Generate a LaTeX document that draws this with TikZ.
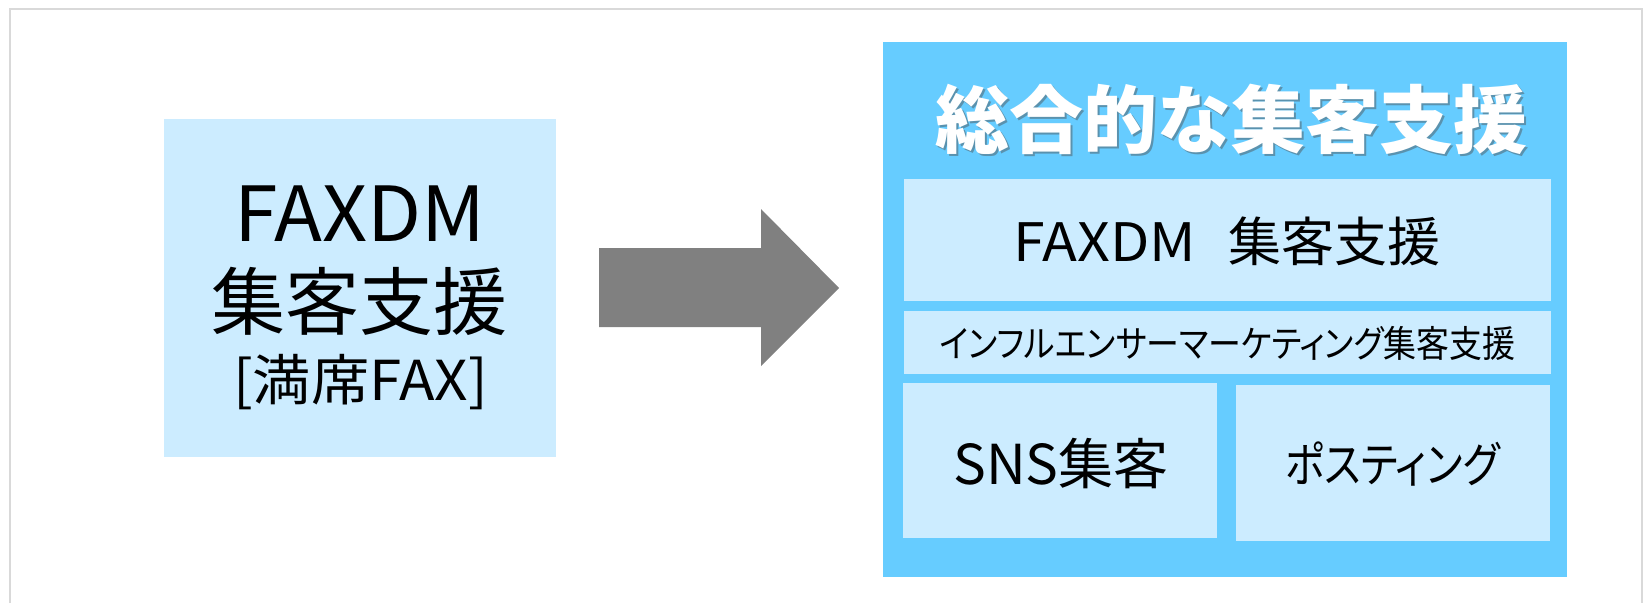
\documentclass[tikz,border=0pt]{standalone}
\usepackage{fontspec}
\setmainfont{Noto Sans CJK JP}
\newfontfamily\jpp[RawFeature=+palt]{Noto Sans CJK JP}
\definecolor{lightbox}{HTML}{CCECFF}
\definecolor{bigbox}{HTML}{66CCFF}
\definecolor{framegray}{HTML}{D9D9D9}
\definecolor{arrowgray}{HTML}{808080}
\tikzset{
  lbox/.style={fill=lightbox, draw=none, inner sep=0pt, minimum width=#1},
  txt/.style={inner sep=0pt, anchor=center, text=black},
}
\newcommand{\fs}[1]{\fontsize{#1}{#1}\selectfont}
\newcommand{\hs}[2]{\scalebox{#1}[1]{#2}}
\begin{document}
\begin{tikzpicture}[x=1pt,y=-1pt]
\useasboundingbox (0,0) rectangle (1646,603);
\fill[white] (0,0) rectangle (1646,603);
% outer frame (open at the bottom)
\draw[framegray, line width=2.5pt] (10,603) -- (10,9) -- (1642,9) -- (1642,603);
% left box
\node[lbox=392pt, minimum height=338pt] (left) at (360,288) {};
\node[txt] (l1) at (360,214) {\fs{76}\hs{1.035}{FAXDM}};
\node[txt] (l2) at (359.5,301.5) {\fs{74}集客支援};
\node[txt] (l3) at (360.5,382.5) {\fs{55}\hs{1.06}{[満席FAX]}};
% big block arrow
\fill[arrowgray] (599,248) -- (761,248) -- (761,209) -- (839,288) -- (761,366) -- (761,327) -- (599,327) -- cycle;
% right big box
\node[fill=bigbox, inner sep=0pt, minimum width=684pt, minimum height=535pt] (big) at (1225,309.5) {};
\node[txt, text=black!70, opacity=0.45] (titleshadow) at (1233.5,121.5) {\fs{74}\bfseries 総合的な集客支援};
\node[txt, text=white] (title) at (1231.5,119.5) {\fs{74}\bfseries 総合的な集客支援};
\node[lbox=647pt, minimum height=122pt] (faxbox) at (1227.5,240) {};
\node[txt] (faxtxt) at (1227,241.5) {\fs{53}\hs{1.08}{FAXDM}\hspace{33pt}集客支援};
\node[lbox=647pt, minimum height=63pt] (inflbox) at (1227.5,342.5) {};
\node[txt] (infltxt) at (1227.5,343) {\fs{37}\jpp\hs{0.89}{インフルエンサーマーケティング集客支援}};
\node[lbox=314pt, minimum height=155pt] (snsbox) at (1060,460.5) {};
\node[txt] (snstxt) at (1061,464) {\fs{55}SNS集客};
\node[lbox=314pt, minimum height=156pt] (postbox) at (1393,463) {};
\node[txt] (posttxt) at (1392.5,463.5) {\fs{48}\jpp\hs{0.845}{ポスティング}};
\end{tikzpicture}
\end{document}
